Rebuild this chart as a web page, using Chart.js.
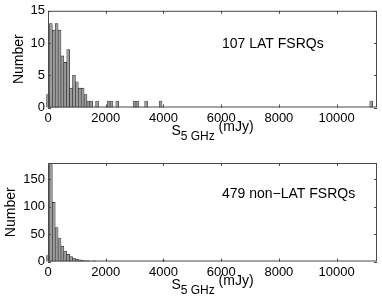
<!DOCTYPE html>
<html>
<head>
<meta charset="utf-8">
<script src="https://cdn.jsdelivr.net/npm/chart.js@4.4.0/dist/chart.umd.min.js"></script>
<style>
  body { margin: 0; background: #fff; }
  #wrap { position: relative; width: 382px; height: 301px; }
  canvas { position: absolute; left: 0; }
</style>
</head>
<body>
<div id="wrap">
  <canvas id="chartLat" width="382" height="150" style="top:0"></canvas>
  <canvas id="chartNonLat" width="382" height="151" style="top:150px"></canvas>
</div>
<script>
// bin centres (mJy) and counts (bin width 100 mJy)
const latFlux = [0, 100, 200, 300, 400, 500, 600, 700, 800, 900, 1000, 1100, 1200, 1300, 1400, 1500,
  1700, 2100, 2200, 2400, 3000, 3100, 3400, 3900, 11200];
const latCount = [2, 13, 12, 13, 12, 8, 7, 9, 3, 5, 4, 3, 3, 2, 1, 1,
  1, 1, 1, 1, 1, 1, 1, 1, 1];

const nonLatFlux = [0, 100, 200, 300, 400, 500, 600, 700, 800, 900, 1000, 1100, 1200, 1300, 1400, 1600, 4000];
const nonLatCount = [11, 177, 108, 62, 43, 28, 19, 13, 9, 6, 4, 3, 2, 1, 1, 1, 1];

const xTicks = [0, 2000, 4000, 6000, 8000, 10000];
const xMax = 11400;

const FONT = '"Liberation Sans", Arial, sans-serif';

// MATLAB-like frame: box, inward ticks, note text and the S_5GHz label
const frame = {
  id: "frame",
  afterDraw(chart, args, opts) {
    const { ctx, chartArea: a, scales } = chart;
    ctx.save();
    ctx.strokeStyle = "#4a4a4a";
    ctx.lineWidth = 1;
    ctx.strokeRect(a.left + 0.5, a.top + 0.5, a.right - a.left - 1, a.bottom - a.top - 1);

    ctx.beginPath();
    scales.x.ticks.forEach((t) => {
      const px = Math.round(scales.x.getPixelForValue(t.value)) + 0.5;
      ctx.moveTo(px, a.bottom); ctx.lineTo(px, a.bottom - 3);
      ctx.moveTo(px, a.top); ctx.lineTo(px, a.top + 3);
    });
    scales.y.ticks.forEach((t) => {
      const py = Math.round(scales.y.getPixelForValue(t.value)) + 0.5;
      ctx.moveTo(a.left, py); ctx.lineTo(a.left + 3, py);
      ctx.moveTo(a.right, py); ctx.lineTo(a.right - 3, py);
    });
    ctx.stroke();

    ctx.fillStyle = "#000";
    ctx.textBaseline = "alphabetic";
    ctx.font = "14px " + FONT;
    ctx.fillText(opts.note, 222, 48);

    // x title: S with subscript "5 GHz" followed by (mJy), the unit sits a bit higher
    const base = a.bottom + 27;
    ctx.font = "14px " + FONT;
    const wS = ctx.measureText("S").width;
    const wU = ctx.measureText(" (mJy)").width;
    ctx.font = "12px " + FONT;
    const wSub = ctx.measureText("5 GHz").width;
    let x = (a.left + a.right) / 2 - (wS + wSub + wU) / 2;
    ctx.font = "14px " + FONT;
    ctx.fillText("S", x, base);
    x += wS;
    ctx.font = "12px " + FONT;
    ctx.fillText("5 GHz", x, base + 5);
    x += wSub;
    ctx.font = "14px " + FONT;
    ctx.fillText(" (mJy)", x, base - 4);
    ctx.restore();
  },
};

function makeHist(id, flux, count, yMax, yStep, note, titlePad, topPad) {
  const ctx = document.getElementById(id).getContext("2d");
  return new Chart(ctx, {
    type: "bar",
    data: {
      datasets: [{
        data: flux.map((f, i) => ({ x: f, y: count[i] })),
        backgroundColor: "#9c9c9c",
        borderColor: "#262626",
        borderWidth: 0.6,
        categoryPercentage: 1,
        barPercentage: 1,
        clip: false,
      }],
    },
    options: {
      responsive: false,
      animation: false,
      layout: { padding: { left: 0, right: 5, top: topPad, bottom: 0 } },
      plugins: {
        legend: { display: false },
        tooltip: { enabled: false },
        frame: { note: note },
      },
      scales: {
        x: {
          type: "linear",
          offset: false,
          min: 0,
          max: xMax,
          grid: { display: false, drawTicks: false, offset: false },
          border: { display: false },
          afterBuildTicks: (s) => { s.ticks = xTicks.map((v) => ({ value: v })); },
          afterFit: (s) => { s.height = 150 - topPad - 97 - 0.5; },
          ticks: {
            color: "#000",
            padding: 3,
            maxRotation: 0,
            font: { family: FONT, size: 13 },
            callback: (v) => String(v),
          },
        },
        y: {
          min: 0,
          max: yMax,
          grid: { display: false, drawTicks: false },
          border: { display: false },
          afterFit: (s) => { s.width = 48; },
          ticks: {
            color: "#000",
            stepSize: yStep,
            includeBounds: false,
            padding: 3,
            font: { family: FONT, size: 13 },
          },
          title: {
            display: true,
            text: "Number",
            color: "#000",
            font: { family: FONT, size: 14 },
            padding: { top: titlePad, bottom: 0 },
          },
        },
      },
    },
    plugins: [frame],
  });
}

makeHist("chartLat", latFlux, latCount, 15, 5, "107 LAT FSRQs", 11, 10);
makeHist("chartNonLat", nonLatFlux, nonLatCount, 180, 50, "479 non\u2212LAT FSRQs", 3, 13);
</script>
</body>
</html>
